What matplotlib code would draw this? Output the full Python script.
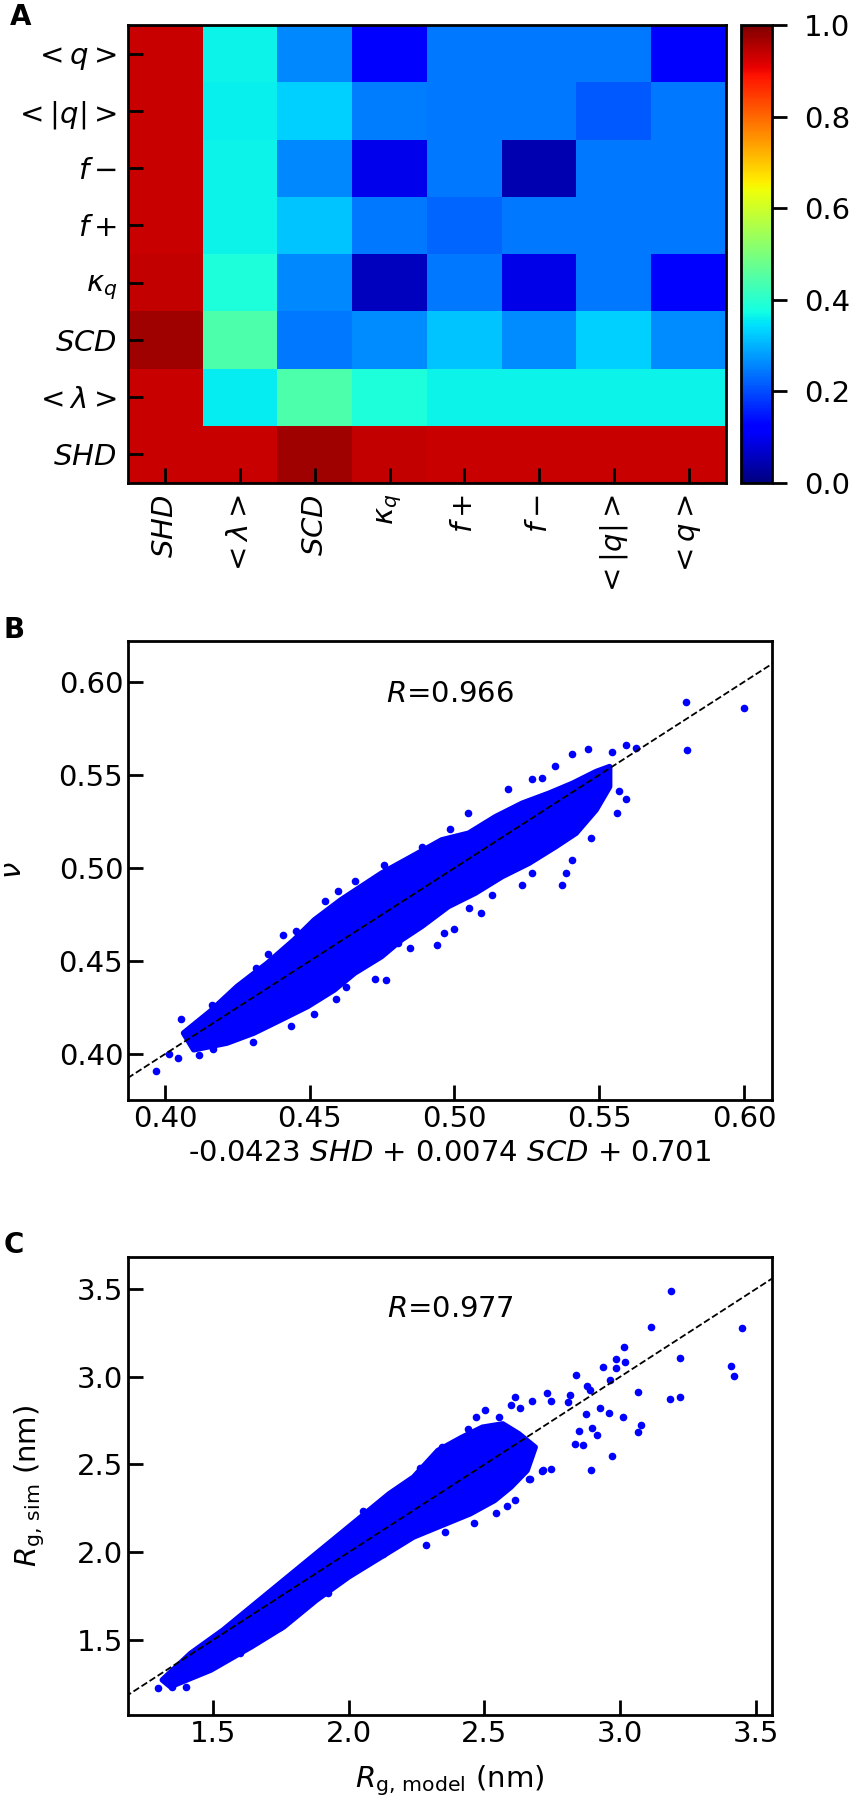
import numpy as np
import matplotlib.pyplot as plt

plt.rcParams['font.family'] = ['DejaVu Sans']
plt.rcParams['mathtext.fontset'] = 'dejavusans'

# ---- panel A: correlation heatmap ----
labels = ['$SHD$', r'$<\lambda>$', '$SCD$', r'$\kappa_q$', '$f+$', '$f-$', r'$<|q|>$', '$<q>$']
# rows from bottom (SHD) to top (<q>), columns in the same order as labels
row_shd = [0.934, 0.934, 0.972, 0.941, 0.934, 0.934, 0.934, 0.934]
row_lam = [0.934, 0.356, 0.442, 0.385, 0.365, 0.365, 0.365, 0.365]
row_scd = [0.972, 0.442, 0.245, 0.262, 0.317, 0.262, 0.329, 0.262]
row_kap = [0.941, 0.385, 0.258, 0.055, 0.243, 0.093, 0.245, 0.110]
row_fp = [0.934, 0.365, 0.317, 0.243, 0.223, 0.243, 0.243, 0.243]
row_fm = [0.934, 0.365, 0.258, 0.097, 0.243, 0.045, 0.243, 0.243]
row_absq = [0.934, 0.362, 0.329, 0.247, 0.243, 0.243, 0.211, 0.245]
row_q = [0.934, 0.365, 0.258, 0.120, 0.243, 0.243, 0.243, 0.120]
corr = np.array([row_shd, row_lam, row_scd, row_kap, row_fp, row_fm, row_absq, row_q])

# ---- panel B: nu vs linear model ----
b_core_up_x = [0.4064, 0.4156, 0.4249, 0.4354, 0.4446, 0.4516, 0.4608, 0.4748, 0.4852, 0.4956,
               0.5049, 0.5142, 0.5234, 0.5327, 0.5408, 0.5489, 0.5536]
b_core_up_y = [0.4113, 0.4229, 0.4363, 0.4489, 0.4614, 0.4721, 0.4829, 0.4972, 0.5061, 0.5151,
               0.5187, 0.5276, 0.5348, 0.5402, 0.5455, 0.5518, 0.5545]
b_core_lo_x = [0.4099, 0.4214, 0.4307, 0.4400, 0.4493, 0.4585, 0.4655, 0.4748, 0.4817, 0.4887,
               0.4979, 0.5072, 0.5165, 0.5258, 0.5350, 0.5420, 0.5489, 0.5536]
b_core_lo_y = [0.4023, 0.4059, 0.4113, 0.4184, 0.4256, 0.4345, 0.4435, 0.4524, 0.4614, 0.4686,
               0.4793, 0.4865, 0.4954, 0.5026, 0.5115, 0.5187, 0.5312, 0.5437]
b_pts_x = [0.3969, 0.4015, 0.4046, 0.4054, 0.4116, 0.4166, 0.4305, 0.4435, 0.4516, 0.4591,
           0.4724, 0.4765, 0.4846, 0.4939, 0.4997, 0.5093, 0.5049, 0.5373, 0.5387, 0.5472,
           0.5561, 0.5591, 0.5570, 0.5628, 0.5594, 0.5545, 0.5460, 0.5406, 0.5348, 0.5304,
           0.5267, 0.5185, 0.5047, 0.4985, 0.4887, 0.4756, 0.4655, 0.4599, 0.4553, 0.4452,
           0.4406, 0.4354, 0.4313, 0.4162, 0.5406, 0.5269, 0.5234, 0.5130, 0.4965, 0.4805,
           0.4678, 0.4626, 0.5800, 0.6000, 0.5805]
b_pts_y = [0.3910, 0.4002, 0.3979, 0.4190, 0.3993, 0.4029, 0.4064, 0.4152, 0.4217, 0.4295,
           0.4403, 0.4396, 0.4569, 0.4584, 0.4671, 0.4757, 0.4784, 0.4909, 0.4972, 0.5163,
           0.5298, 0.5369, 0.5416, 0.5647, 0.5661, 0.5625, 0.5638, 0.5611, 0.5548, 0.5482,
           0.5477, 0.5425, 0.5298, 0.5208, 0.5115, 0.5017, 0.4931, 0.4874, 0.4820, 0.4662,
           0.4641, 0.4539, 0.4462, 0.4265, 0.5043, 0.4972, 0.4909, 0.4856, 0.4650, 0.4596,
           0.4480, 0.4360, 0.5890, 0.5860, 0.5636]

# ---- panel C: Rg sim vs model ----
c_core_up_x = [1.3134, 1.4179, 1.5373, 1.6716, 1.7910, 1.9104, 2.0299, 2.1493, 2.2388, 2.3284,
               2.4179, 2.4925, 2.5672, 2.6269, 2.6866]
c_core_up_y = [1.2727, 1.4242, 1.5568, 1.7273, 1.8788, 2.0303, 2.1818, 2.3333, 2.4280, 2.5795,
               2.6553, 2.7121, 2.7311, 2.6742, 2.5985]
c_core_lo_x = [1.3433, 1.4925, 1.6418, 1.7612, 1.8806, 2.0000, 2.1194, 2.2388, 2.3582, 2.4478,
               2.5373, 2.5970, 2.6567]
c_core_lo_y = [1.2348, 1.3295, 1.4621, 1.5758, 1.7273, 1.8598, 1.9735, 2.0871, 2.1629, 2.2197,
               2.2955, 2.3712, 2.4659]
c_pts_x = [1.2985, 1.3507, 1.4000, 1.5119, 1.6000, 1.7463, 1.9254, 2.1269, 2.2836, 2.3537,
           2.4627, 2.5418, 2.5821, 2.6119, 2.6687, 2.7164, 2.7463, 2.8925, 2.9701, 2.8328,
           2.8627, 2.9149, 2.8955, 2.8463, 3.0104, 2.9597, 2.9254, 2.8731, 3.0672, 3.0776,
           3.0642, 3.1821, 3.2194, 3.2194, 3.1149, 3.4090, 3.4179, 3.4478, 3.0149, 3.0179,
           2.9851, 2.9851, 2.9358, 2.9627, 2.8358, 2.8776, 2.8881, 2.7313, 2.7463, 2.8164,
           2.8060, 2.6761, 2.6119, 2.5970, 2.6313, 2.5030, 2.4701, 2.5522, 2.4403, 2.3433,
           2.2612, 2.0522, 2.7119, 2.6642, 3.1870]
c_pts_y = [1.2254, 1.2348, 1.2348, 1.3826, 1.4242, 1.5758, 1.7652, 1.9924, 2.0398, 2.1155,
           2.1667, 2.2254, 2.2614, 2.2992, 2.4148, 2.4659, 2.4754, 2.4659, 2.5511, 2.6174,
           2.6136, 2.6667, 2.7064, 2.6894, 2.7689, 2.7917, 2.8220, 2.7879, 2.6837, 2.7273,
           2.9110, 2.8712, 2.8864, 3.1061, 3.2841, 3.0587, 3.0057, 3.2765, 3.1667, 3.0814,
           3.1004, 3.0492, 3.0568, 2.9811, 3.0114, 2.9489, 2.9242, 2.9091, 2.8636, 2.8958,
           2.8542, 2.8598, 2.8826, 2.8409, 2.8201, 2.8106, 2.7689, 2.7727, 2.7027, 2.5985,
           2.4811, 2.2348, 2.4621, 2.4186, 3.4880]

W, H = 850, 1800
fig = plt.figure(figsize=(8.5, 18), dpi=100)

def box(l, t, w, h):
    return [l / W, 1 - (t + h) / H, w / W, h / H]

fs = 21

# heatmap
ax = fig.add_axes(box(128, 25, 598, 458))
im = ax.imshow(corr, cmap='jet', vmin=0, vmax=1, origin='lower', aspect='auto')
ax.set_xticks(range(8))
ax.set_yticks(range(8))
ax.set_xticklabels(labels, rotation=90, fontsize=fs)
ax.set_yticklabels(labels, fontsize=fs)
ax.tick_params(direction='in', length=11, width=2, pad=8)
for s in ax.spines.values():
    s.set_linewidth(2)

cax = fig.add_axes(box(741, 25, 31, 458))
cb = fig.colorbar(im, cax=cax, ticks=[0, 0.2, 0.4, 0.6, 0.8, 1.0])
cb.ax.tick_params(direction='out', length=11, width=2, labelsize=fs, pad=12)
cb.ax.set_yticklabels(['0.0', '0.2', '0.4', '0.6', '0.8', '1.0'])
cb.outline.set_linewidth(2)

def scatter_panel(rect, core_up_x, core_up_y, core_lo_x, core_lo_y, px, py, lims, xlim, ylim):
    a = fig.add_axes(rect)
    cx = list(core_up_x) + list(core_lo_x[::-1])
    cy = list(core_up_y) + list(core_lo_y[::-1])
    a.fill(cx, cy, color='blue', lw=4, edgecolor='blue', joinstyle='round')
    a.scatter(px, py, s=20, color='blue', zorder=3)
    a.plot(lims, lims, 'k--', lw=1.3, zorder=4)
    a.set_xlim(xlim)
    a.set_ylim(ylim)
    a.tick_params(direction='in', length=11, width=2, labelsize=fs)
    for s in a.spines.values():
        s.set_linewidth(2)
    return a

axb = scatter_panel(box(128, 641, 644, 459), b_core_up_x, b_core_up_y, b_core_lo_x, b_core_lo_y,
                    b_pts_x, b_pts_y, [0.3, 0.7], (0.3872, 0.6097), (0.3753, 0.622))
axb.set_xticks([0.40, 0.45, 0.50, 0.55, 0.60])
axb.set_yticks([0.40, 0.45, 0.50, 0.55, 0.60])
axb.set_xticklabels(['0.40', '0.45', '0.50', '0.55', '0.60'])
axb.set_yticklabels(['0.40', '0.45', '0.50', '0.55', '0.60'])
axb.set_xlabel('-0.0423 $SHD$ + 0.0074 $SCD$ + 0.701', fontsize=fs)
axb.set_ylabel(r'$\nu$', fontsize=fs)
axb.xaxis.set_label_coords(0.5, -0.085)
axb.yaxis.set_label_coords(-0.157, 0.5)
axb.text(0.5, 0.885, '$R$=0.966', transform=axb.transAxes, ha='center', va='center', fontsize=fs)

axc = scatter_panel(box(128, 1257, 644, 458), c_core_up_x, c_core_up_y, c_core_lo_x, c_core_lo_y,
                    c_pts_x, c_pts_y, [1.0, 4.0], (1.187, 3.559), (1.073, 3.682))
axc.set_xticks([1.5, 2.0, 2.5, 3.0, 3.5])
axc.set_yticks([1.5, 2.0, 2.5, 3.0, 3.5])
axc.set_xlabel(r'$R_{\rm g,\,model}$ (nm)', fontsize=fs)
axc.set_ylabel(r'$R_{\rm g,\,sim}$ (nm)', fontsize=fs)
axc.xaxis.set_label_coords(0.5, -0.105)
axc.yaxis.set_label_coords(-0.125, 0.5)
axc.text(0.5, 0.887, '$R$=0.977', transform=axc.transAxes, ha='center', va='center', fontsize=fs)

fig.text(10 / W, 1 - 17 / H, 'A', fontsize=20, fontweight='bold', va='center')
fig.text(4 / W, 1 - 630 / H, 'B', fontsize=20, fontweight='bold', va='center')
fig.text(4 / W, 1 - 1245 / H, 'C', fontsize=20, fontweight='bold', va='center')

fig.savefig('out.png', dpi=100)
